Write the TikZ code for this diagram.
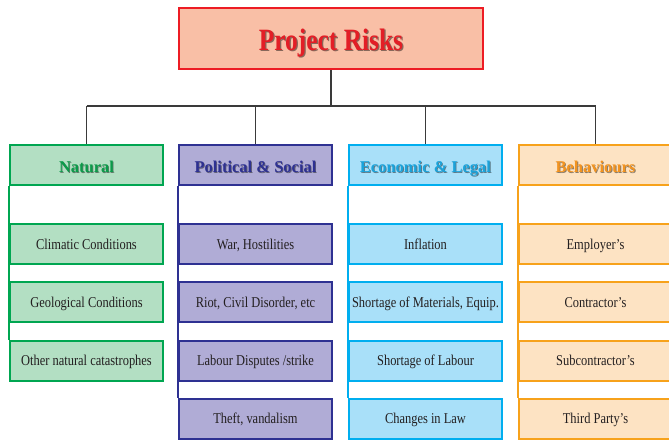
\documentclass[tikz,border=0pt]{standalone}
\usepackage{fontspec}
\setmainfont{Liberation Serif}
\newfontfamily\narrowserif[FakeStretch=0.83]{Liberation Serif}
\newfontfamily\titleserif[FakeStretch=0.82]{Liberation Serif}

% palette
\definecolor{rootfill}{HTML}{F9BFA6}
\definecolor{rootline}{HTML}{ED1C24}
\definecolor{rootink}{HTML}{E31E26}
\definecolor{natfill}{HTML}{B3DFC3}
\definecolor{natline}{HTML}{00A651}
\definecolor{natink}{HTML}{0B9B4A}
\definecolor{polfill}{HTML}{B0ACD6}
\definecolor{polline}{HTML}{2E3192}
\definecolor{polink}{HTML}{2E3192}
\definecolor{ecofill}{HTML}{A9E0F9}
\definecolor{ecoline}{HTML}{00AEEF}
\definecolor{ecoink}{HTML}{1AA3DB}
\definecolor{behfill}{HTML}{FDE3C3}
\definecolor{behline}{HTML}{F7A21B}
\definecolor{behink}{HTML}{F39420}
\definecolor{leafink}{HTML}{231F20}
\definecolor{linkgray}{HTML}{3A3A3A}

\begin{document}
\begin{tikzpicture}[x=1pt,y=-1pt,
  box/.style={draw, line width=2pt, minimum width=153pt, minimum height=40pt, inner sep=0pt},
  leaf/.style={box, font=\narrowserif\fontsize{15}{16}\selectfont, text=leafink, text height=13pt, text depth=3pt},
  headtxt/.style={inner sep=0pt, font=\bfseries\fontsize{16.5}{18}\selectfont, text height=19pt, text depth=3.6pt},
  titletxt/.style={inner sep=0pt, font=\titleserif\bfseries\fontsize{31}{33}\selectfont, text height=27pt, text depth=4pt},
  shade/.style={text=black, text opacity=0.45},
  link/.style={draw=linkgray, line width=1.1pt},
  rail/.style={line width=2.3pt},
]
\useasboundingbox (0,0) rectangle (669,439);

% root box
\node[box, minimum width=304pt, minimum height=61pt, fill=rootfill, draw=rootline] (root) at (331,38.5) {};
\node[titletxt, shade] (root-shadow) at ([shift={(1.2,1.2)}]root.center) {Project Risks};
\node[titletxt, text=rootink] (root-label) at (root.center) {Project Risks};

% category headers
\foreach \n/\x/\t in {nat/86.5/Natural, pol/255.5/Political \& Social, eco/425.5/Economic \& Legal, beh/595.5/Behaviours}{
  \node[box, fill=\n fill, draw=\n line] (\n) at (\x,165) {};
  \node[headtxt, shade] (\n-shadow) at ([shift={(0.8,0.8)}]\n.center) {\t};
  \node[headtxt, text=\n ink] (\n-label) at (\n.center) {\t};
}

% bus from the root to the headers
\coordinate (bus) at (root.south |- 0,106);
\draw[link] (root.south) -- (bus);
\draw[link] (nat.north |- bus) -- (beh.north |- bus);
\foreach \n in {nat,pol,eco,beh}
  \draw[link] (\n.north |- bus) -- (\n.north);

% leaves of each category, hung on a rail down the left edge
\foreach \n/\x/\list in {
    nat/86.5/{Climatic Conditions, Geological Conditions, Other natural catastrophes},
    pol/255.5/{{War, Hostilities}, {Riot, Civil Disorder, etc}, Labour Disputes /strike, {Theft, vandalism}},
    eco/425.5/{Inflation, {Shortage of Materials, Equip.}, Shortage of Labour, Changes in Law},
    beh/595.5/{Employer’s, Contractor’s, Subcontractor’s, Third Party’s}}{
  \foreach \t [count=\i] in \list {
    \pgfmathsetmacro\yy{244+58.3*(\i-1)}
    \node[leaf, fill=\n fill, draw=\n line] (\n\i) at (\x,\yy) {\t};
    \xdef\lastleaf{\n\i}
  }
  \draw[rail, draw=\n line] (\n.south west) -- (\lastleaf.north west);
}
\end{tikzpicture}
\end{document}
